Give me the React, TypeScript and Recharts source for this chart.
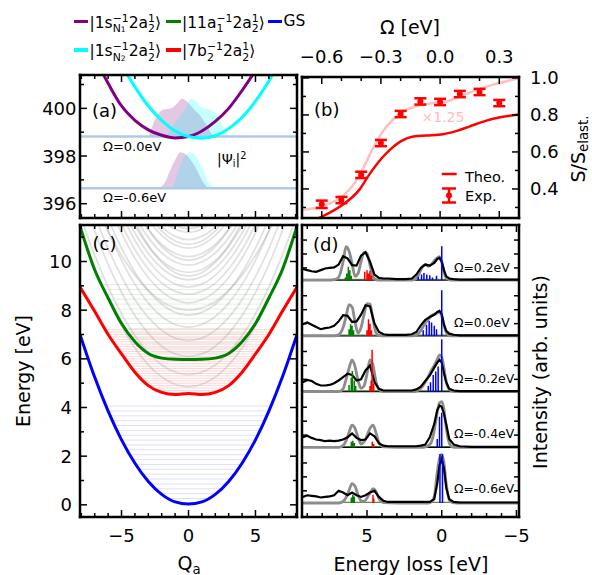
import React from 'react';
import { ComposedChart, Line, Area, Scatter, ErrorBar, XAxis, YAxis } from 'recharts';

const W = 592;
const H = 575;
const FONT = '"DejaVu Sans", Verdana, sans-serif';
const TICK_FS = 18;

// ---------- panel (a): core-excited potentials and |psi|^2 ----------
const qN1 = [-8, -7, -6, -5, -4, -3, -2, -1, 0, 1, 2, 3, 4, 5, 6];
const n1Curve = [403.0, 402.1, 401.05, 400.1, 399.5, 399.1, 398.87, 398.76, 398.82, 399.05, 399.45, 400.0, 400.75, 401.6, 402.6];
const qN2 = [-6, -5, -4, -3, -2, -1, 0, 1, 2, 3, 4, 5, 6, 7, 8];
const n2Curve = [403.0, 401.85, 400.9, 400.1, 399.5, 399.05, 398.82, 398.75, 398.85, 399.15, 399.62, 400.3, 401.15, 402.2, 403.4];
const baseUpper = 398.82;
const baseLower = 396.65;
const psiN1UpQ = [-3.0, -2.8, -2.4, -1.9, -1.3, -0.95, -0.47, -0.15, 0.2, 0.57, 1.0, 1.32, 1.65, 1.95];
const psiN1Up = [398.82, 399.1, 399.65, 399.94, 400.0, 400.14, 400.4, 400.3, 400.1, 399.87, 399.6, 399.31, 399.0, 398.82];
const psiN2UpQ = [-1.75, -1.4, -0.94, -0.32, 0.2, 0.57, 1.07, 1.57, 2.07, 2.4, 2.8, 3.05];
const psiN2Up = [398.82, 399.05, 399.44, 399.9, 400.4, 400.29, 400.0, 399.94, 399.8, 399.44, 398.97, 398.82];
const psiN1LoQ = [-2.2, -1.7, -1.42, -0.94, -0.6, -0.17, 0.2, 0.57, 1.07, 1.45];
const psiN1Lo = [396.65, 396.95, 397.34, 397.9, 398.16, 398.05, 397.8, 397.48, 396.92, 396.65];
const psiN2LoQ = [-1.2, -0.95, -0.69, -0.32, 0.2, 0.57, 1.07, 1.57, 1.94];
const psiN2Lo = [396.65, 397.05, 397.48, 397.97, 398.16, 397.97, 397.41, 396.85, 396.65];

// ---------- panel (b): S / S_elast ----------
const omegaTheo = [-0.62, -0.5, -0.41, -0.36, -0.31, -0.255, -0.2, -0.135, -0.07, 0.015, 0.085, 0.15, 0.235, 0.305, 0.4];
const theo = [0.24, 0.31, 0.395, 0.476, 0.548, 0.611, 0.657, 0.684, 0.689, 0.696, 0.714, 0.738, 0.769, 0.787, 0.802];
const omegaScaled = [-0.71, -0.61, -0.51, -0.44, -0.39, -0.34, -0.29, -0.24, -0.17, -0.1, -0.035, 0.035, 0.1, 0.19, 0.27, 0.4];
const theoScaled = [0.286, 0.304, 0.35, 0.422, 0.512, 0.62, 0.711, 0.774, 0.828, 0.852, 0.864, 0.873, 0.9, 0.937, 0.964, 0.998];
const omegaExp = [-0.6, -0.5, -0.4, -0.3, -0.2, -0.1, 0.0, 0.1, 0.2, 0.3];
const expRatio = [0.317, 0.34, 0.476, 0.648, 0.805, 0.873, 0.87, 0.913, 0.924, 0.864];
const expErr = [0.02, 0.017, 0.017, 0.017, 0.017, 0.017, 0.017, 0.017, 0.017, 0.017];

// ---------- panel (c): valence potential curves ----------
const qGrid = [-8.1, -7, -6, -5, -4, -3, -2, -1, 0, 1, 2, 3, 4, 5, 6, 7, 8.1];
const gsCurve = [7.0, 5.24, 3.85, 2.67, 1.71, 0.96, 0.43, 0.12, 0.03, 0.12, 0.43, 0.96, 1.71, 2.67, 3.85, 5.24, 7.0];
const b2Curve = [8.95, 7.95, 7.0, 6.2, 5.45, 4.9, 4.62, 4.53, 4.58, 4.53, 4.62, 4.9, 5.45, 6.2, 7.0, 7.95, 8.95];
const a1Curve = [11.45, 9.65, 8.5, 7.45, 6.7, 6.22, 6.03, 5.98, 5.97, 5.98, 6.03, 6.22, 6.7, 7.45, 8.5, 9.65, 11.45];
const grayHalfQ = [0, 1, 2, 3, 4, 5, 6, 7, 8.1];
const grayStates = [
  [4.85, 4.95, 5.25, 5.75, 6.45, 7.35, 8.45, 9.75, 11.41],
  [5.35, 5.45, 5.75, 6.25, 6.95, 7.85, 8.95, 10.25, 11.91],
  [6.1, 6.2, 6.52, 7.05, 7.78, 8.73, 9.88, 11.25, 12.99],
  [6.75, 6.85, 7.17, 7.7, 8.43, 9.38, 10.53, 11.9, 13.64],
  [7.3, 7.41, 7.74, 8.29, 9.06, 10.05, 11.26, 12.69, 14.52],
  [7.8, 7.91, 8.24, 8.79, 9.56, 10.55, 11.76, 13.19, 15.02],
  [8.0, 8.09, 8.36, 8.81, 9.44, 10.25, 11.24, 12.41, 13.9],
  [8.3, 8.42, 8.76, 9.34, 10.14, 11.18, 12.44, 13.94, 15.85],
  [8.65, 8.77, 9.11, 9.69, 10.49, 11.53, 12.79, 14.29, 16.2],
  [8.95, 9.07, 9.43, 10.03, 10.87, 11.95, 13.27, 14.83, 16.82],
  [9.25, 9.37, 9.73, 10.33, 11.17, 12.25, 13.57, 15.13, 17.12],
  [9.4, 9.54, 9.96, 10.66, 11.64, 12.9, 14.44, 16.26, 18.6],
  [9.55, 9.67, 10.03, 10.63, 11.47, 12.55, 13.87, 15.43, 17.42],
  [9.85, 9.98, 10.35, 10.98, 11.85, 12.98, 14.35, 15.98, 18.05],
  [10.05, 10.19, 10.61, 11.31, 12.29, 13.55, 15.09, 16.91, 19.25],
  [10.2, 10.33, 10.7, 11.33, 12.2, 13.33, 14.7, 16.33, 18.4],
  [10.55, 10.68, 11.07, 11.72, 12.63, 13.8, 15.23, 16.92, 19.08],
  [10.7, 10.84, 11.26, 11.96, 12.94, 14.2, 15.74, 17.56, 19.9],
  [10.9, 11.03, 11.42, 12.07, 12.98, 14.15, 15.58, 17.27, 19.43],
  [11.2, 11.33, 11.72, 12.37, 13.28, 14.45, 15.88, 17.57, 19.73],
  [11.35, 11.49, 11.91, 12.61, 13.59, 14.85, 16.39, 18.21, 20.55],
];
const gsLevels = [0.06, 0.26, 0.46, 0.66, 0.86, 1.06, 1.26, 1.46, 1.66, 1.86, 2.06, 2.26, 2.46, 2.66, 2.86, 3.06, 3.26, 3.46, 3.66, 3.86, 4.06];
const gsHalf = [0.75, 1.56, 2.07, 2.48, 2.83, 3.15, 3.43, 3.69, 3.94, 4.17, 4.39, 4.6, 4.79, 4.99, 5.17, 5.35, 5.52, 5.69, 5.85, 6.0, 6.16];
const b2Levels = [4.6, 4.7, 4.8, 4.9, 5.0, 5.1, 5.2, 5.3, 5.4, 5.5, 5.6, 5.7, 5.8, 5.9, 6.0, 6.1, 6.2, 6.3, 6.4, 6.5, 6.6, 6.7, 6.8, 6.9, 7.0, 7.1, 7.2];
const b2Half = [1.9, 2.4, 2.75, 3.0, 3.2, 3.37, 3.55, 3.73, 3.91, 4.07, 4.2, 4.33, 4.47, 4.6, 4.73, 4.87, 5.0, 5.12, 5.25, 5.37, 5.5, 5.62, 5.75, 5.87, 6.0, 6.1, 6.2];
const a1Levels = [6.05, 6.25, 6.45, 6.65, 6.85, 7.05, 7.25, 7.45, 7.65, 7.85, 8.05, 8.25, 8.45, 8.65, 8.85, 9.05];
const a1Half = [2.1, 3.06, 3.5, 3.9, 4.2, 4.47, 4.73, 5.0, 5.19, 5.38, 5.57, 5.76, 5.95, 6.13, 6.3, 6.48];

// ---------- panel (d): RIXS spectra ----------
const lossGrid = [9.3, 9.0, 8.7, 8.4, 8.1, 7.8, 7.5, 7.2, 6.9, 6.6, 6.3, 6.0, 5.7, 5.4, 5.1, 4.8, 4.5, 4.2, 3.9, 3.6, 3.0, 2.4, 2.0, 1.7, 1.4, 1.1, 0.8, 0.5, 0.3, 0.15, 0.0, -0.15, -0.3, -0.5, -0.8, -1.2, -2.0, -3.0, -4.0, -5.2];
const exp02 = [0.2, 0.18, 0.16, 0.15, 0.18, 0.21, 0.22, 0.23, 0.28, 0.43, 0.39, 0.27, 0.26, 0.44, 0.5, 0.33, 0.1, 0.04, 0.03, 0.03, 0.02, 0.02, 0.03, 0.1, 0.22, 0.28, 0.26, 0.31, 0.38, 0.4, 0.33, 0.18, 0.07, 0.03, 0.02, 0.01, 0.01, 0.015, 0.01, 0.01];
const exp00 = [0.21, 0.24, 0.2, 0.16, 0.12, 0.14, 0.15, 0.18, 0.26, 0.37, 0.36, 0.25, 0.26, 0.38, 0.55, 0.53, 0.22, 0.07, 0.03, 0.02, 0.02, 0.02, 0.03, 0.07, 0.19, 0.29, 0.34, 0.38, 0.43, 0.45, 0.39, 0.2, 0.09, 0.04, 0.02, 0.01, 0.01, 0.01, 0.01, 0.01];
const expM02 = [0.17, 0.21, 0.19, 0.14, 0.11, 0.11, 0.12, 0.15, 0.2, 0.26, 0.32, 0.3, 0.2, 0.22, 0.38, 0.47, 0.17, 0.05, 0.02, 0.02, 0.02, 0.02, 0.02, 0.04, 0.09, 0.19, 0.29, 0.43, 0.52, 0.57, 0.52, 0.33, 0.17, 0.05, 0.02, 0.01, 0.01, 0.01, 0.01, 0.01];
const expM04 = [0.18, 0.21, 0.17, 0.14, 0.13, 0.11, 0.12, 0.11, 0.12, 0.14, 0.18, 0.25, 0.17, 0.13, 0.14, 0.25, 0.2, 0.07, 0.03, 0.02, 0.02, 0.02, 0.02, 0.02, 0.03, 0.05, 0.18, 0.42, 0.67, 0.75, 0.73, 0.6, 0.42, 0.15, 0.05, 0.02, 0.01, 0.01, 0.01, 0.01];
const expM06 = [0.11, 0.14, 0.13, 0.12, 0.1, 0.11, 0.12, 0.14, 0.22, 0.19, 0.14, 0.19, 0.14, 0.11, 0.14, 0.19, 0.22, 0.11, 0.04, 0.02, 0.02, 0.02, 0.02, 0.02, 0.02, 0.02, 0.02, 0.07, 0.35, 0.68, 0.79, 0.62, 0.28, 0.07, 0.02, 0.01, 0.01, 0.01, 0.01, 0.01];
const thGrid = [9.3, 7.6, 7.2, 6.9, 6.6, 6.4, 6.2, 6.0, 5.8, 5.6, 5.4, 5.2, 5.0, 4.8, 4.6, 4.4, 4.2, 3.9, 2.0, 1.7, 1.5, 1.3, 1.1, 0.9, 0.7, 0.5, 0.3, 0.15, 0.0, -0.15, -0.3, -0.5, -0.7, -1.0, -5.2];
const th02 = [0, 0, 0.01, 0.05, 0.33, 0.6, 0.52, 0.3, 0.07, 0.12, 0.33, 0.5, 0.48, 0.27, 0.06, 0.01, 0, 0, 0, 0.03, 0.12, 0.24, 0.28, 0.25, 0.28, 0.35, 0.4, 0.42, 0.33, 0.15, 0.04, 0.01, 0, 0, 0];
const th00 = [0, 0, 0, 0.02, 0.15, 0.35, 0.56, 0.52, 0.25, 0.05, 0.15, 0.38, 0.58, 0.57, 0.3, 0.06, 0.01, 0, 0, 0.02, 0.06, 0.14, 0.23, 0.3, 0.36, 0.39, 0.41, 0.43, 0.36, 0.2, 0.06, 0.01, 0, 0, 0];
const thM02 = [0, 0, 0, 0, 0.05, 0.22, 0.42, 0.57, 0.45, 0.2, 0.06, 0.1, 0.32, 0.57, 0.48, 0.18, 0.04, 0, 0, 0.01, 0.04, 0.09, 0.17, 0.27, 0.38, 0.47, 0.58, 0.66, 0.62, 0.42, 0.18, 0.04, 0.01, 0, 0];
const thM04 = [0, 0, 0, 0, 0.03, 0.12, 0.27, 0.4, 0.34, 0.17, 0.06, 0.1, 0.21, 0.34, 0.4, 0.26, 0.09, 0.01, 0, 0, 0, 0, 0.01, 0.03, 0.09, 0.3, 0.63, 0.8, 0.82, 0.68, 0.35, 0.08, 0.01, 0, 0];
const thM06 = [0, 0, 0, 0, 0.03, 0.1, 0.23, 0.35, 0.3, 0.15, 0.04, 0.03, 0.09, 0.18, 0.26, 0.21, 0.08, 0.01, 0, 0, 0, 0, 0, 0, 0.02, 0.12, 0.55, 0.8, 0.87, 0.72, 0.35, 0.06, 0.01, 0, 0];
const green02 = [[6.45, 0.05], [6.35, 0.12], [6.25, 0.24], [6.15, 0.18], [6.05, 0.08]];
const red02 = [[5.15, 0.15], [5.0, 0.18], [4.9, 0.12], [4.8, 0.17], [4.7, 0.08]];
const blue02 = [[1.57, 0.06], [1.35, 0.1], [1.19, 0.13], [1.0, 0.1], [0.8, 0.09], [0.62, 0.05], [0.35, 0.08], [0.0, 0.61]];
const green00 = [[6.2, 0.12], [6.1, 0.21], [6.0, 0.18], [5.9, 0.1]];
const red00 = [[5.0, 0.1], [4.9, 0.3], [4.8, 0.22], [4.7, 0.1]];
const blue00 = [[1.24, 0.1], [1.02, 0.2], [0.84, 0.27], [0.68, 0.24], [0.5, 0.18], [0.35, 0.12], [0.0, 0.82]];
const greenM02 = [[6.2, 0.12], [6.05, 0.25], [5.98, 0.37], [5.85, 0.2], [5.76, 0.1]];
const redM02 = [[4.8, 0.1], [4.72, 0.2], [4.66, 0.75], [4.55, 0.15]];
const blueM02 = [[0.9, 0.1], [0.75, 0.17], [0.57, 0.3], [0.4, 0.36], [0.24, 0.45], [0.0, 0.94]];
const greenM04 = [[6.05, 0.1], [5.95, 0.12], [5.85, 0.08]];
const redM04 = [[4.65, 0.1], [4.55, 0.06]];
const blueM04 = [[0.3, 0.15], [0.15, 0.55], [0.0, 0.62]];
const greenM06 = [[6.05, 0.1], [5.95, 0.15], [5.85, 0.12]];
const redM06 = [[4.6, 0.15], [4.55, 0.08]];
const blueM06 = [[0.12, 0.88], [-0.05, 0.88]];
const spectrumLabels = ['Ω=0.2eV', 'Ω=0.0eV', 'Ω=-0.2eV', 'Ω=-0.4eV', 'Ω=-0.6eV'];

// ---------- ticks ----------
const qTicks = [-8, -7, -6, -5, -4, -3, -2, -1, 0, 1, 2, 3, 4, 5, 6, 7, 8];
const lossTicks = [9, 8, 7, 6, 5, 4, 3, 2, 1, 0, -1, -2, -3, -4, -5];
const omegaTicks = [-0.6, -0.5, -0.4, -0.3, -0.2, -0.1, 0.0, 0.1, 0.2, 0.3];
const ratioTicks = [0.3, 0.4, 0.5, 0.6, 0.7, 0.8, 0.9, 1.0];
const energyTicks = [0, 1, 2, 3, 4, 5, 6, 7, 8, 9, 10, 11];
const coreTicks = [396, 397, 398, 399, 400, 401];

// ---------- helpers ----------
const pts = (xs: number[], ys: number[], off = 0) => xs.map((x, i) => ({ x, y: ys[i] + off }));
const mirror = (half: number[]) => half.slice(1).reverse().concat(half);
const mirrorQ = grayHalfQ.slice(1).map((q) => -q).reverse().concat(grayHalfQ);
const levelPts = (lv: number[], hw: number[]) =>
  lv.flatMap((e, i) => [{ x: -hw[i], y: e }, { x: hw[i], y: e }, { x: hw[i], y: null }]);
const stickPts = (list: number[][], k: number) =>
  list.flatMap(([e, h]) => [{ x: e, y: k }, { x: e, y: k + h }, { x: e, y: null }]);
const hline = (x0: number, x1: number, y: number) => [{ x: x0, y }, { x: x1, y }];
const signed = (d: number) => (v: number) => (v < 0 ? '\u2212' : '') + Math.abs(v).toFixed(d);

type Box = { left: number; top: number; right: number; bottom: number };
// axes are given 1px of thickness, so the margins are reduced by that pixel
const marginOf = (b: Box) => ({ left: b.left - 1, top: b.top - 1, right: W - b.right - 1, bottom: H - b.bottom - 1 });
const boxA: Box = { left: 80, top: 75, right: 297, bottom: 218 };
const boxB: Box = { left: 302, top: 77, right: 519, bottom: 218 };
const boxC: Box = { left: 80, top: 225, right: 297, bottom: 517 };
const boxD: Box = { left: 302, top: 225, right: 519, bottom: 517 };

type Side = 'top' | 'bottom' | 'left' | 'right';
type AxisCfg = {
  domain: [number, number];
  ticks: number[];
  majors: number[];
  labels?: boolean;
  fmt?: (v: number) => string;
  gap?: number;
  reversed?: boolean;
  major?: number;
  minor?: number;
};

function makeTick(side: Side, c: AxisCfg) {
  const maj = c.major ?? 7;
  const mnr = c.minor ?? 4;
  return (props: any) => {
    const x = Number(props.x);
    const y = Number(props.y);
    const v = props.payload ? props.payload.value : 0;
    const isMajor = c.majors.some((m) => Math.abs(m - v) < 1e-6);
    const len = isMajor ? maj : mnr;
    let x2 = x;
    let y2 = y;
    if (side === 'bottom') y2 = y - len;
    else if (side === 'top') y2 = y + len;
    else if (side === 'left') x2 = x + len;
    else x2 = x - len;
    let label: any = null;
    if (c.labels && isMajor) {
      const t = (c.fmt ?? String)(v);
      const gap = c.gap ?? 6;
      const common = { fontSize: TICK_FS, fontFamily: FONT, fill: '#000' };
      if (side === 'bottom') label = <text x={x} y={y + 25} textAnchor="middle" {...common}>{t}</text>;
      else if (side === 'top') label = <text x={x} y={y - 14.5} textAnchor="middle" {...common}>{t}</text>;
      else if (side === 'left') label = <text x={x - gap} y={y + 6.5} textAnchor="end" {...common}>{t}</text>;
      else label = <text x={x + gap} y={y + 6.5} textAnchor="start" {...common}>{t}</text>;
    }
    return (
      <g>
        <line x1={x} y1={y} x2={x2} y2={y2} stroke="#000" strokeWidth={1.5} />
        {label}
      </g>
    );
  };
}

const axisLine = { stroke: '#000', strokeWidth: 2.5, strokeLinecap: 'square' };

function xAxis(id: string, side: 'top' | 'bottom', c: AxisCfg) {
  return (
    <XAxis key={'x' + id} xAxisId={id} orientation={side} type="number" dataKey="x" domain={c.domain}
      allowDataOverflow reversed={!!c.reversed} ticks={c.ticks} interval={0} height={1} tickSize={0}
      tickMargin={0} tickLine={false} axisLine={axisLine as any} tick={makeTick(side, c)} />
  );
}
function yAxis(id: string, side: 'left' | 'right', c: AxisCfg) {
  return (
    <YAxis key={'y' + id} yAxisId={id} orientation={side} type="number" dataKey="y" domain={c.domain}
      allowDataOverflow ticks={c.ticks} interval={0} width={1} tickSize={0} tickMargin={0}
      tickLine={false} axisLine={axisLine as any} tick={makeTick(side, c)} />
  );
}
function frame(x: AxisCfg, xTop: AxisCfg, yL: AxisCfg, yR: AxisCfg) {
  return [xAxis('b', 'bottom', x), xAxis('t', 'top', xTop), yAxis('l', 'left', yL), yAxis('r', 'right', yR)];
}
const ax = { xAxisId: 'b', yAxisId: 'l', isAnimationActive: false, dot: false, activeDot: false } as any;

const Layer = ({ children }: any) => (
  <div style={{ position: 'absolute', left: 0, top: 0, width: W, height: H }}>{children}</div>
);

// ---------- panels ----------
function PanelA() {
  const xc: AxisCfg = { domain: [-8.1, 8.1], ticks: qTicks, majors: [-5, 0, 5] };
  const yc: AxisCfg = { domain: [395.4, 401.4], ticks: coreTicks, majors: [396, 398, 400], labels: true, gap: 3.5 };
  return (
    <ComposedChart width={W} height={H} margin={marginOf(boxA)}>
      {frame(xc, xc, yc, { ...yc, labels: false })}
      <Line {...ax} data={hline(-8.1, 8.1, baseUpper)} dataKey="y" stroke="#aecbe6" strokeWidth={2.5} />
      <Line {...ax} data={hline(-8.1, 8.1, baseLower)} dataKey="y" stroke="#aecbe6" strokeWidth={2.5} />
      <Area {...ax} data={pts(psiN1UpQ, psiN1Up)} dataKey="y" baseValue={baseUpper} type="monotone" fill="#800080" fillOpacity={0.22} stroke="none" />
      <Area {...ax} data={pts(psiN2UpQ, psiN2Up)} dataKey="y" baseValue={baseUpper} type="monotone" fill="#00ffff" fillOpacity={0.22} stroke="none" />
      <Area {...ax} data={pts(psiN1LoQ, psiN1Lo)} dataKey="y" baseValue={baseLower} type="monotone" fill="#800080" fillOpacity={0.22} stroke="none" />
      <Area {...ax} data={pts(psiN2LoQ, psiN2Lo)} dataKey="y" baseValue={baseLower} type="monotone" fill="#00ffff" fillOpacity={0.22} stroke="none" />
      <Line {...ax} data={pts(qN1, n1Curve)} dataKey="y" type="monotone" stroke="#800080" strokeWidth={3} />
      <Line {...ax} data={pts(qN2, n2Curve)} dataKey="y" type="monotone" stroke="#00ffff" strokeWidth={3} />
    </ComposedChart>
  );
}

function PanelB() {
  const xb: AxisCfg = { domain: [-0.7, 0.4], ticks: omegaTicks, majors: [-0.6, -0.3, 0, 0.3] };
  const xt: AxisCfg = { ...xb, labels: true, fmt: signed(1) };
  const yl: AxisCfg = { domain: [0.243, 1.005], ticks: ratioTicks, majors: [0.4, 0.6, 0.8, 1.0] };
  const yr: AxisCfg = { ...yl, labels: true, gap: 11, fmt: (v) => v.toFixed(1) };
  const expData = omegaExp.map((x, i) => ({ x, y: expRatio[i], err: expErr[i] }));
  return (
    <ComposedChart width={W} height={H} margin={marginOf(boxB)}>
      {frame(xb, xt, yl, yr)}
      <Line {...ax} data={pts(omegaScaled, theoScaled)} dataKey="y" type="monotone" stroke="#ffbfbf" strokeWidth={2.5} />
      <Line {...ax} data={pts(omegaTheo, theo)} dataKey="y" type="monotone" stroke="#ff0000" strokeWidth={2.5} />
      <Scatter xAxisId="b" yAxisId="l" data={expData} dataKey="y" isAnimationActive={false}
        shape={(p: any) => <circle cx={p.cx} cy={p.cy} r={3} fill="#ff0000" />}>
        <ErrorBar dataKey="err" direction="y" width={6} stroke="#ff0000" strokeWidth={2.5} isAnimationActive={false} />
      </Scatter>
    </ComposedChart>
  );
}

function PanelC() {
  const xc: AxisCfg = { domain: [-8.1, 8.1], ticks: qTicks, majors: [-5, 0, 5], labels: true, fmt: signed(0) };
  const yc: AxisCfg = { domain: [-0.5, 11.5], ticks: energyTicks, majors: [0, 2, 4, 6, 8, 10], labels: true, gap: 8 };
  return (
    <ComposedChart width={W} height={H} margin={marginOf(boxC)}>
      {frame(xc, { ...xc, labels: false }, yc, { ...yc, labels: false })}
      <Line {...ax} data={levelPts(gsLevels, gsHalf)} dataKey="y" stroke="#0000ff" strokeOpacity={0.13} strokeWidth={1} />
      <Line {...ax} data={levelPts(b2Levels, b2Half)} dataKey="y" stroke="#ff0000" strokeOpacity={0.17} strokeWidth={1} />
      <Line {...ax} data={levelPts(a1Levels, a1Half)} dataKey="y" stroke="#008000" strokeOpacity={0.12} strokeWidth={1} />
      {grayStates.map((g, i) => (
        <Line key={'g' + i} {...ax} data={pts(mirrorQ, mirror(g))} dataKey="y" type="monotone" stroke="#8a8a8a" strokeOpacity={0.26} strokeWidth={1.8} />
      ))}
      <Line {...ax} data={pts(qGrid, a1Curve)} dataKey="y" type="monotone" stroke="#008000" strokeWidth={3} />
      <Line {...ax} data={pts(qGrid, b2Curve)} dataKey="y" type="monotone" stroke="#ff0000" strokeWidth={3} />
      <Line {...ax} data={pts(qGrid, gsCurve)} dataKey="y" type="monotone" stroke="#0000ff" strokeWidth={3} />
    </ComposedChart>
  );
}

const spectra = [
  { k: 4, exp: exp02, th: th02, g: green02, r: red02, b: blue02 },
  { k: 3, exp: exp00, th: th00, g: green00, r: red00, b: blue00 },
  { k: 2, exp: expM02, th: thM02, g: greenM02, r: redM02, b: blueM02 },
  { k: 1, exp: expM04, th: thM04, g: greenM04, r: redM04, b: blueM04 },
  { k: 0, exp: expM06, th: thM06, g: greenM06, r: redM06, b: blueM06 },
];
const intensityTicks = [0, 1, 2, 3, 4].flatMap((k) => [k + 0.22, k + 0.47, k + 0.72]);

function PanelD() {
  const xc: AxisCfg = { domain: [-5.17, 9.35], ticks: lossTicks, majors: [5, 0, -5], labels: true, fmt: signed(0), reversed: true };
  const yc: AxisCfg = { domain: [-0.25, 4.99], ticks: intensityTicks, majors: [], minor: 5 };
  return (
    <ComposedChart width={W} height={H} margin={marginOf(boxD)}>
      {frame(xc, { ...xc, labels: false }, yc, yc)}
      {[1, 2, 3, 4].map((k) => (
        <Line key={'sep' + k} {...ax} data={hline(-5.17, 9.35, k)} dataKey="y" stroke="#000" strokeWidth={1.4} />
      ))}
      {spectra.map((s) => (
        <Line key={'base' + s.k} {...ax} data={hline(-5.17, 9.35, s.k + 0.014)} dataKey="y" stroke="#3b6b1f" strokeWidth={1} />
      ))}
      {spectra.map((s) => (
        <Line key={'th' + s.k} {...ax} data={pts(thGrid, s.th, s.k).reverse()} dataKey="y" type="monotone" stroke="#8c8c8c" strokeWidth={2.8} />
      ))}
      {spectra.map((s) => (
        <Line key={'ex' + s.k} {...ax} data={pts(lossGrid, s.exp, s.k)} dataKey="y" type="linear" stroke="#000" strokeWidth={2.2} />
      ))}
      {spectra.map((s) => (
        <Line key={'sg' + s.k} {...ax} data={stickPts(s.g, s.k)} dataKey="y" stroke="#008000" strokeWidth={1.5} />
      ))}
      {spectra.map((s) => (
        <Line key={'sr' + s.k} {...ax} data={stickPts(s.r, s.k)} dataKey="y" stroke="#ff0000" strokeWidth={1.5} />
      ))}
      {spectra.map((s) => (
        <Line key={'sb' + s.k} {...ax} data={stickPts(s.b, s.k)} dataKey="y" stroke="#0000ff" strokeWidth={1.5} />
      ))}
    </ComposedChart>
  );
}

// ---------- text helpers ----------
function Txt({ x, base, size, anchor = 'start', color = '#000', children }: any) {
  const tx = anchor === 'middle' ? '-50%' : anchor === 'end' ? '-100%' : '0';
  return (
    <div style={{ position: 'absolute', left: x, top: base - 0.846 * size, fontSize: size, lineHeight: `${size}px`,
      whiteSpace: 'nowrap', color, transform: `translateX(${tx})` }}>{children}</div>
  );
}
function RotTxt({ cx, cy, size, children }: any) {
  return (
    <div style={{ position: 'absolute', left: cx, top: cy, fontSize: size, lineHeight: `${size}px`, whiteSpace: 'nowrap',
      transform: 'translate(-50%, -50%) rotate(-90deg)' }}>{children}</div>
  );
}
const Sub = ({ children }: any) => (
  <span style={{ fontSize: '0.7em', verticalAlign: '-0.3em', lineHeight: 0 }}>{children}</span>
);
const Sup = ({ children }: any) => (
  <span style={{ fontSize: '0.7em', verticalAlign: '0.55em', lineHeight: 0 }}>{children}</span>
);
const Stack = ({ sup, sub }: any) => (
  <span style={{ display: 'inline-flex', flexDirection: 'column', alignItems: 'flex-start', fontSize: '0.7em',
    lineHeight: 1, verticalAlign: '0.6em' }}>
    <span>{sup}</span>
    <span>{sub}</span>
  </span>
);
const Ket = ({ children }: any) => <span>|{children}⟩</span>;

function LegendItem({ x, y, color, children }: any) {
  return (
    <>
      <div style={{ position: 'absolute', left: x, top: y - 1.75, width: 14.5, height: 3.5, background: color }} />
      <Txt x={x + 16} base={y + 5} size={15.5}>{children}</Txt>
    </>
  );
}
const A2 = () => <>2a<Stack sup="1" sub="2" /></>;

export default function App() {
  return (
    <div style={{ position: 'absolute', left: 0, top: 0, width: W, height: H, background: '#fff', fontFamily: FONT,
      overflow: 'hidden', color: '#000' }}>
      <Layer><PanelC /></Layer>
      <Layer><PanelA /></Layer>
      <Layer><PanelD /></Layer>
      <Layer><PanelB /></Layer>

      <LegendItem x={73.5} y={21.7} color="#800080">
        <Ket>1s<Stack sup="−1" sub={<>N<span style={{ fontSize: '0.7em' }}>1</span></>} /><A2 /></Ket>
      </LegendItem>
      <LegendItem x={166} y={21.7} color="#008000">
        <Ket>11a<Stack sup="−1" sub="1" /><A2 /></Ket>
      </LegendItem>
      <LegendItem x={267.5} y={21.7} color="#0000ff">GS</LegendItem>
      <LegendItem x={73.5} y={50} color="#00ffff">
        <Ket>1s<Stack sup="−1" sub={<>N<span style={{ fontSize: '0.7em' }}>2</span></>} /><A2 /></Ket>
      </LegendItem>
      <LegendItem x={166} y={50} color="#ff0000">
        <Ket>7b<Stack sup="−1" sub="2" /><A2 /></Ket>
      </LegendItem>

      <Txt x={410} base={34} size={19} anchor="middle">Ω [eV]</Txt>
      <RotTxt cx={578} cy={149} size={19}>S/S<Sub>elast.</Sub></RotTxt>
      <RotTxt cx={540} cy={372} size={19}>Intensity (arb. units)</RotTxt>
      <RotTxt cx={23} cy={371} size={19}>Energy [eV]</RotTxt>
      <Txt x={189} base={570} size={19} anchor="middle">Q<Sub>a</Sub></Txt>
      <Txt x={411} base={571} size={19} anchor="middle">Energy loss [eV]</Txt>

      <Txt x={92} base={117} size={18}>(a)</Txt>
      <Txt x={314} base={116} size={18}>(b)</Txt>
      <Txt x={92.5} base={250} size={18}>(c)</Txt>
      <Txt x={313} base={251} size={18}>(d)</Txt>

      <Txt x={103} base={151} size={13}>Ω=0.0eV</Txt>
      <Txt x={103} base={201.5} size={13}>Ω=-0.6eV</Txt>
      <Txt x={217} base={164} size={14}>|Ψ<Sub>i</Sub>|<Sup>2</Sup></Txt>
      <Txt x={421.5} base={121.5} size={14} color="#ffbcbc">×1.25</Txt>

      {spectrumLabels.map((t, i) => (
        <Txt key={t} x={454} base={272.5 + i * 55.3} size={12.4}>{t}</Txt>
      ))}

      <svg width={W} height={H} style={{ position: 'absolute', left: 0, top: 0 }}>
        <line x1={441.7} x2={456.7} y1={174} y2={174} stroke="#ff0000" strokeWidth={2.5} />
        <text x={465} y={181.5} fontSize={14.5} fontFamily={FONT}>Theo.</text>
        <line x1={449} x2={449} y1={188.5} y2={202.5} stroke="#ff0000" strokeWidth={2.5} />
        <line x1={442} x2={456} y1={188.5} y2={188.5} stroke="#ff0000" strokeWidth={2.5} />
        <line x1={442} x2={456} y1={202.5} y2={202.5} stroke="#ff0000" strokeWidth={2.5} />
        <circle cx={449} cy={195.5} r={3} fill="#ff0000" />
        <text x={465} y={200.5} fontSize={14.5} fontFamily={FONT}>Exp.</text>
      </svg>
    </div>
  );
}
